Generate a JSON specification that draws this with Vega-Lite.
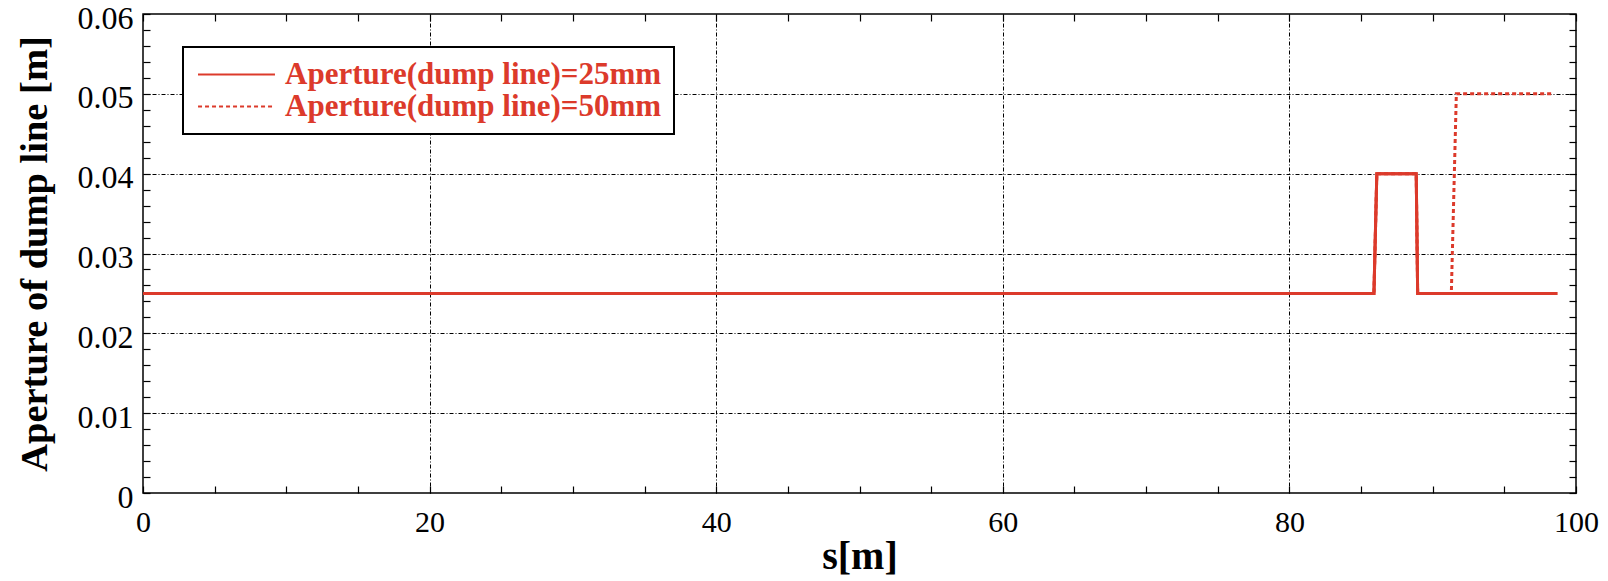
{
  "$schema": "https://vega.github.io/schema/vega-lite/v6.json",
  "width": 1433,
  "height": 479,
  "autosize": {"type": "none"},
  "padding": {"left": 143, "top": 14, "right": 32, "bottom": 88},
  "background": "white",
  "config": {
    "view": {"stroke": "black", "strokeWidth": 1.5},
    "font": "Liberation Serif"
  },
  "datasets": {
    "ap": [
      {"series": "Aperture(dump line)=50mm", "s": 0, "aperture": 0.025},
      {"series": "Aperture(dump line)=50mm", "s": 85.9, "aperture": 0.025},
      {"series": "Aperture(dump line)=50mm", "s": 86.1, "aperture": 0.04},
      {"series": "Aperture(dump line)=50mm", "s": 88.85, "aperture": 0.04},
      {"series": "Aperture(dump line)=50mm", "s": 88.95, "aperture": 0.025},
      {"series": "Aperture(dump line)=50mm", "s": 91.3, "aperture": 0.025},
      {"series": "Aperture(dump line)=50mm", "s": 91.65, "aperture": 0.05},
      {"series": "Aperture(dump line)=50mm", "s": 98.3, "aperture": 0.05},
      {"series": "Aperture(dump line)=25mm", "s": 0, "aperture": 0.025},
      {"series": "Aperture(dump line)=25mm", "s": 85.9, "aperture": 0.025},
      {"series": "Aperture(dump line)=25mm", "s": 86.1, "aperture": 0.04},
      {"series": "Aperture(dump line)=25mm", "s": 88.85, "aperture": 0.04},
      {"series": "Aperture(dump line)=25mm", "s": 88.95, "aperture": 0.025},
      {"series": "Aperture(dump line)=25mm", "s": 98.7, "aperture": 0.025}
    ]
  },
  "resolve": {"axis": {"x": "independent", "y": "independent"}},
  "layer": [
    {
      "data": {"name": "ap"},
      "mark": {"type": "line", "color": "#dc3a2b", "strokeWidth": 3},
      "encoding": {
        "x": {
          "field": "s", "type": "quantitative",
          "scale": {"domain": [0, 100], "nice": false, "zero": false},
          "axis": {
            "orient": "bottom",
            "title": "s[m]",
            "titleFont": "Liberation Serif", "titleFontSize": 40, "titleFontWeight": "bold", "titleColor": "black",
            "titlePadding": -1,
            "values": [0,5,10,15,20,25,30,35,40,45,50,55,60,65,70,75,80,85,90,95,100],
            "labelExpr": "datum.value % 20 == 0 ? datum.label : ''",
            "format": "d",
            "labelFont": "Liberation Serif", "labelFontSize": 30, "labelColor": "black",
            "labelPadding": 21, "labelFlush": false, "labelOverlap": false, "labelBound": false,
            "tickSize": -7, "tickColor": "black", "tickWidth": 1.2,
            "domain": false,
            "grid": true, "gridColor": "black", "gridWidth": 1, "gridDash": [4, 2, 1, 2],
            "gridOpacity": {"condition": {"test": "datum.value % 20 == 0 && datum.value > 0 && datum.value < 100", "value": 1}, "value": 0}
          }
        },
        "y": {
          "field": "aperture", "type": "quantitative",
          "scale": {"domain": [0, 0.06], "nice": false},
          "axis": {
            "orient": "left",
            "title": "Aperture of dump line [m]",
            "titleFont": "Liberation Serif", "titleFontSize": 38.5, "titleFontWeight": "bold", "titleColor": "black",
            "titlePadding": 23,
            "values": [0,0.002,0.004,0.006,0.008,0.01,0.012,0.014,0.016,0.018,0.02,0.022,0.024,0.026,0.028,0.03,0.032,0.034,0.036,0.038,0.04,0.042,0.044,0.046,0.048,0.05,0.052,0.054,0.056,0.058,0.06],
            "format": ".2~f",
            "labelExpr": "abs(datum.value * 100 - round(datum.value * 100)) < 0.001 ? datum.label : ''",
            "labelFont": "Liberation Serif", "labelFontSize": 32, "labelColor": "black",
            "labelPadding": 17, "labelOffset": 4, "labelFlush": false, "labelOverlap": false, "labelBound": false,
            "tickSize": -7, "tickColor": "black", "tickWidth": 1.2,
            "domain": false,
            "grid": true, "gridColor": "black", "gridWidth": 1, "gridDash": [4, 2, 1, 2],
            "gridOpacity": {"condition": {"test": "abs(datum.value * 100 - round(datum.value * 100)) < 0.001 && datum.value > 0.001 && datum.value < 0.059", "value": 1}, "value": 0}
          }
        },
        "strokeDash": {
          "field": "series", "type": "nominal",
          "scale": {"domain": ["Aperture(dump line)=25mm", "Aperture(dump line)=50mm"], "range": [[1, 0], [4, 3]]},
          "legend": {
            "title": null,
            "orient": "none",
            "legendX": 40,
            "legendY": 33,
            "fillColor": "white",
            "strokeColor": "black",
            "padding": 12,
            "symbolType": "M-4,0H4",
            "symbolSize": 370,
            "symbolStrokeColor": "#dc3a2b",
            "symbolStrokeWidth": 2,
            "symbolFillColor": "transparent",
            "symbolOffset": 26,
            "labelOffset": 33,
            "labelFont": "Liberation Serif",
            "labelFontSize": 31,
            "labelFontWeight": "bold",
            "labelColor": "#dc3a2b",
            "labelLimit": 0,
            "rowPadding": 0,
            "encode": {"legend": {"update": {"strokeWidth": {"value": 2}}}}
          }
        }
      }
    },
    {
      "data": {"name": "ap"},
      "transform": [{"filter": "datum.series == 'Aperture(dump line)=25mm'"}],
      "mark": {"type": "line", "color": "#dc3a2b", "strokeWidth": 3},
      "encoding": {
        "x": {
          "field": "s", "type": "quantitative",
          "axis": {
            "orient": "top", "title": null, "labels": false, "domain": false, "grid": false,
            "values": [0,5,10,15,20,25,30,35,40,45,50,55,60,65,70,75,80,85,90,95,100],
            "tickSize": -7, "tickColor": "black", "tickWidth": 1.2
          }
        },
        "y": {
          "field": "aperture", "type": "quantitative",
          "axis": {
            "orient": "right", "title": null, "labels": false, "domain": false, "grid": false,
            "values": [0,0.002,0.004,0.006,0.008,0.01,0.012,0.014,0.016,0.018,0.02,0.022,0.024,0.026,0.028,0.03,0.032,0.034,0.036,0.038,0.04,0.042,0.044,0.046,0.048,0.05,0.052,0.054,0.056,0.058,0.06],
            "tickSize": -7, "tickColor": "black", "tickWidth": 1.2
          }
        }
      }
    }
  ]
}
